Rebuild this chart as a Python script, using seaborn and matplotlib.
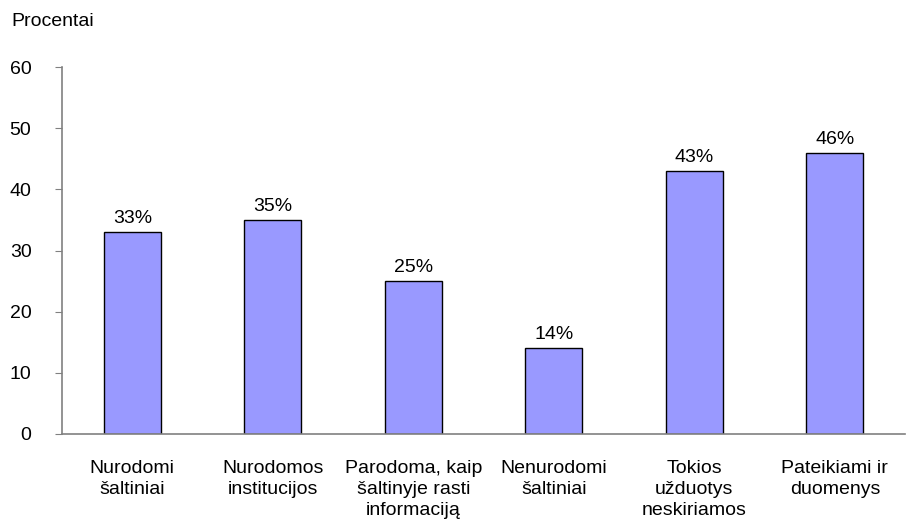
import matplotlib
matplotlib.use('Agg')
import pandas as pd
import matplotlib.pyplot as plt
import seaborn as sns

# Chart data
categories = ['Nurodomi\nšaltiniai', 'Nurodomos\ninstitucijos', 'Parodoma, kaip\nšaltinyje rasti\ninformaciją',
              'Nenurodomi\nšaltiniai', 'Tokios\nužduotys\nneskiriamos', 'Pateikiami ir\nduomenys']
values = [33, 35, 25, 14, 43, 46]
y_ticks = [0, 10, 20, 30, 40, 50, 60]

df = pd.DataFrame({'category': categories, 'value': values})

sns.set_style('white')
plt.rcParams['font.family'] = ['Liberation Sans', 'DejaVu Sans']
plt.rcParams['text.color'] = 'black'
plt.rcParams['xtick.color'] = 'black'
plt.rcParams['ytick.color'] = 'black'

fig = plt.figure(figsize=(9.07, 5.22), dpi=100)
ax = fig.add_axes([0.0684, 0.1686, 0.9296, 0.703])

sns.barplot(data=df, x='category', y='value', color='#9999FF', saturation=1,
            width=0.405, edgecolor='black', linewidth=1, ax=ax)

for i, v in enumerate(values):
    ax.text(i, v + 0.8, f'{v}%', ha='center', va='bottom', fontsize=14)

ax.set_xlim(-0.5, 5.5)
ax.set_ylim(0, 60)
ax.set_yticks(y_ticks)
ax.tick_params(axis='y', labelsize=14, length=5, color='#808080', direction='out', left=True, pad=17)
ax.tick_params(axis='x', labelsize=14, length=0, pad=19)
for lbl in ax.get_xticklabels():
    lbl.set_linespacing(1.28)
ax.set_xlabel('')
ax.set_ylabel('')
sns.despine(ax=ax)
for s in ['left', 'bottom']:
    ax.spines[s].set_color('#808080')
    ax.spines[s].set_linewidth(1.2)

fig.text(0.012, 0.959, 'Procentai', fontsize=14, ha='left', va='center')

fig.savefig('out.png', dpi=100)
